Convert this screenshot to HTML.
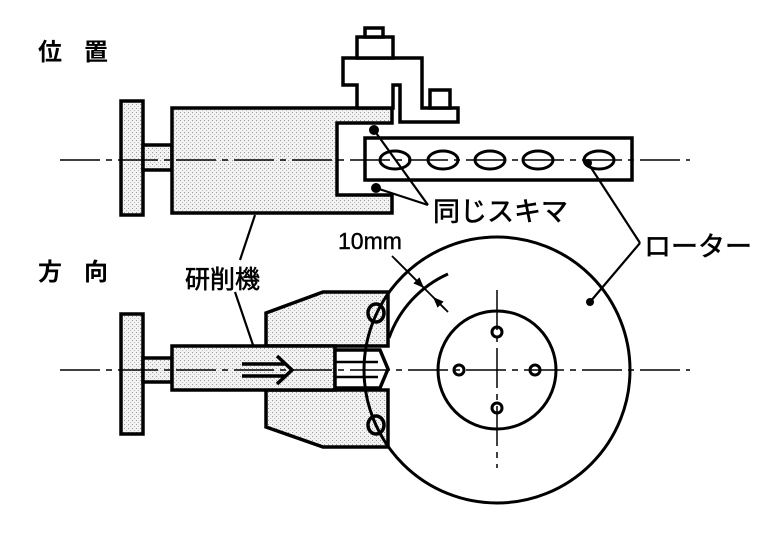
<!DOCTYPE html>
<html><head><meta charset="utf-8"><style>
html,body{margin:0;padding:0;background:#fff;}
svg{display:block;}
text{font-family:"Liberation Sans","Noto Sans CJK JP",sans-serif;fill:#000;}
</style></head><body>
<svg width="768" height="544" viewBox="0 0 768 544" xmlns="http://www.w3.org/2000/svg">
<defs>
<pattern id="dot" width="4" height="4" patternUnits="userSpaceOnUse">
<rect width="4" height="4" fill="#f2f2f2"/>
<rect x="0" y="0" width="1" height="1" fill="#999"/>
<rect x="2" y="2" width="1" height="1" fill="#bbb"/>
</pattern>
<marker id="ar" viewBox="0 0 10 10" refX="10" refY="5" markerWidth="6" markerHeight="6" orient="auto-start-reverse"><path d="M0,1 L10,5 L0,9z" fill="#000"/></marker>
</defs>
<g stroke="#000" stroke-width="3.5" fill="url(#dot)" stroke-linejoin="miter">
<!-- upper -->
<rect x="121" y="101" width="22" height="114"/>
<rect x="143" y="145" width="29" height="25"/>
<path d="M172,108 H392 V123 H337 V195 H392 V213 H172 Z"/>
<path d="M343,58 H422 V108 H458 V122 H400 V85 H393 V108 H357 V85 H343 Z" fill="#fff"/>
<rect x="357" y="37" width="36" height="21" fill="#fff"/>
<rect x="365" y="28" width="18" height="9" fill="#fff"/>
<rect x="430" y="90" width="20" height="18" fill="#fff"/>
<rect x="365" y="138" width="267" height="42" fill="#fff"/>
</g>
<g stroke="#000" stroke-width="3" fill="none">
<ellipse cx="395" cy="160" rx="15" ry="9"/>
<ellipse cx="443" cy="160" rx="15" ry="9"/>
<ellipse cx="490" cy="160" rx="15" ry="9"/>
<ellipse cx="538" cy="160" rx="15" ry="9"/>
<ellipse cx="599" cy="160" rx="15" ry="9"/>
</g>
<line x1="60" y1="160" x2="690" y2="160" stroke="#000" stroke-width="1.5" stroke-dasharray="40,6,6,6"/>
<circle cx="374" cy="130" r="5"/><circle cx="376" cy="188" r="5"/>
<circle cx="588" cy="163" r="4"/><circle cx="590" cy="302" r="4"/>
<g stroke="#000" stroke-width="2.2" fill="none">
<line x1="374" y1="130" x2="428" y2="205"/>
<line x1="376" y1="188" x2="428" y2="205"/>
<line x1="588" y1="163" x2="640" y2="243"/>
<line x1="590" y1="302" x2="640" y2="243"/>
<line x1="255" y1="215" x2="240" y2="260"/>
<line x1="235" y1="292" x2="253" y2="345"/>
</g>
<text x="38" y="60" font-size="24" font-weight="bold" letter-spacing="22">位置</text>
<text x="38" y="280" font-size="24" font-weight="bold" letter-spacing="22">方向</text>
<text x="433" y="221" font-size="27" stroke="#000" stroke-width="0.6">同じスキマ</text>
<text x="644" y="256" font-size="27" stroke="#000" stroke-width="0.6">ローター</text>
<text x="185" y="288" font-size="25" stroke="#000" stroke-width="0.6">研削機</text>
<text x="338" y="249" font-size="23" stroke="#000" stroke-width="0.4">10mm</text>
<!-- lower -->
<g stroke="#000" stroke-width="3.5" fill="url(#dot)">
<rect x="121" y="314" width="22" height="120"/>
<rect x="143" y="358" width="29" height="24"/>
<path d="M266,313 L323,292 H388 V346 H266 Z"/>
<path d="M266,427 L323,447 H388 V390 H266 Z"/>
<rect x="172" y="346" width="163" height="44"/>
<path d="M335,350 H380 L388,369 L380,388 H335 Z" fill="#fff"/>
</g>
<g stroke="#000" stroke-width="2.5" fill="none">
<line x1="335" y1="362" x2="378" y2="362"/><line x1="335" y1="377" x2="378" y2="377"/>
<ellipse cx="376" cy="313" rx="8" ry="9" stroke-width="3.5"/>
<ellipse cx="376" cy="425" rx="8" ry="9" stroke-width="3.5"/>
<path d="M242,364 H285 M242,376 H285 M277,356 L292,370 L277,384" stroke-width="3.5"/>
</g>
<g stroke="#000" stroke-width="3" fill="none">
<circle cx="497" cy="370" r="133"/>
<circle cx="497" cy="370" r="59"/>
<circle cx="459" cy="370" r="5"/><circle cx="535" cy="370" r="5"/>
<circle cx="497" cy="332" r="5"/><circle cx="497" cy="408" r="5"/>
<path d="M448,274 A110,110 0 0 0 389,338"/>
</g>
<line x1="60" y1="370" x2="690" y2="370" stroke="#000" stroke-width="1.5" stroke-dasharray="40,6,6,6"/>
<line x1="497" y1="290" x2="497" y2="468" stroke="#000" stroke-width="1.5" stroke-dasharray="40,6,6,6"/>
<line x1="392" y1="256" x2="448" y2="312" stroke="#000" stroke-width="1.8"/>
<line x1="395" y1="259" x2="424" y2="288" stroke="#000" stroke-width="1.8" marker-end="url(#ar)"/>
<line x1="445" y1="309" x2="433" y2="297" stroke="#000" stroke-width="1.8" marker-end="url(#ar)"/>
</svg>
</body></html>
